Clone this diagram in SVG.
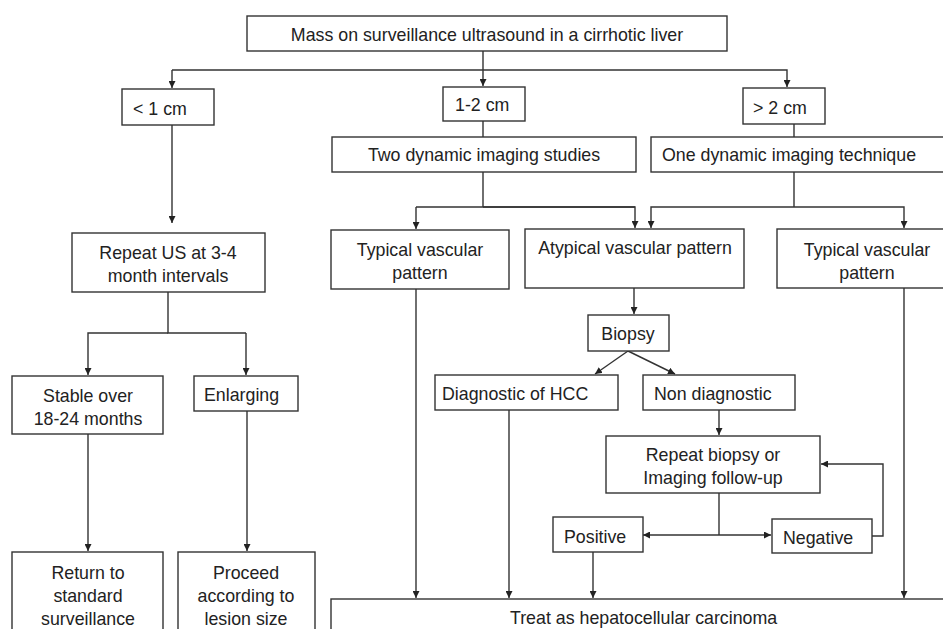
<svg xmlns="http://www.w3.org/2000/svg" width="943" height="629" viewBox="0 0 943 629">
<defs>
<marker id="ah" viewBox="0 0 10 10" refX="10" refY="5" markerWidth="7" markerHeight="7" markerUnits="userSpaceOnUse" orient="auto">
<path d="M0,0 L10,5 L0,10 z" fill="#222"/>
</marker>
</defs>
<style>
rect{fill:#fff;stroke:#333;stroke-width:1.4}
text{font-family:"Liberation Sans",Arial,sans-serif;font-size:17.8px;fill:#222}
.c{text-anchor:middle}
#connectors path{fill:none;stroke:#333;stroke-width:1.4}
.a{marker-end:url(#ah)}
</style>
<rect x="0" y="0" width="943" height="629" style="stroke:none;fill:#fff"/>
<g id="connectors">
<path d="M483,51 V70"/>
<path class="a" d="M172,70 H483 M172,70 V88"/>
<path class="a" d="M483,70 V86"/>
<path class="a" d="M483,70 H787 V87"/>
<path d="M483,121 V137"/>
<path d="M794,124 V137"/>
<path class="a" d="M172,125 V223"/>
<path d="M483,172 V207"/>
<path class="a" d="M416,207 H635 M416,207 V229"/>
<path class="a" d="M483,207 H635 V228"/>
<path d="M794,172 V207"/>
<path class="a" d="M794,207 H651 V228"/>
<path class="a" d="M794,207 H904 V228"/>
<path class="a" d="M634,288 V314"/>
<path class="a" d="M628,351 L595,374"/>
<path class="a" d="M628,351 L675,374"/>
<path class="a" d="M719,410 V435"/>
<path d="M168,292 V333 H246"/>
<path class="a" d="M168,333 H88 V375"/>
<path class="a" d="M246,333 V375"/>
<path class="a" d="M88,434 V551"/>
<path class="a" d="M247,411 V551"/>
<path d="M719,493 V535"/>
<path class="a" d="M719,535 H643"/>
<path class="a" d="M719,535 H771"/>
<path class="a" d="M872,536 H883 V464 H821"/>
<path class="a" d="M416,289 V598"/>
<path class="a" d="M509,410 V598"/>
<path class="a" d="M593,552 V598"/>
<path class="a" d="M904,288 V598"/>
</g>
<g id="n-top"><rect x="247" y="16" width="480" height="35"/><text class="c" x="487" y="41">Mass on surveillance ultrasound in a cirrhotic liver</text></g>
<g id="n-lt1"><rect x="122" y="89" width="92" height="36"/><text x="133" y="115">&lt; 1 cm</text></g>
<g id="n-12"><rect x="443" y="87" width="82" height="34"/><text x="455" y="111">1-2 cm</text></g>
<g id="n-gt2"><rect x="743" y="88" width="82" height="36"/><text x="753" y="114">&gt; 2 cm</text></g>
<g id="n-two"><rect x="332" y="137" width="304" height="35"/><text class="c" x="484" y="161">Two dynamic imaging studies</text></g>
<g id="n-one"><rect x="651" y="137" width="300" height="35"/><text x="662" y="161">One dynamic imaging technique</text></g>
<g id="n-typL"><rect x="331" y="230" width="178" height="59"/><text class="c" x="420" y="256">Typical vascular</text><text class="c" x="420" y="279">pattern</text></g>
<g id="n-atyp"><rect x="525" y="229" width="219" height="59"/><text class="c" x="635" y="254">Atypical vascular pattern</text></g>
<g id="n-typR"><rect x="777" y="229" width="180" height="59"/><text class="c" x="867" y="256">Typical vascular</text><text class="c" x="867" y="279">pattern</text></g>
<g id="n-biopsy"><rect x="588" y="315" width="81" height="36"/><text class="c" x="628" y="340">Biopsy</text></g>
<g id="n-diag"><rect x="435" y="375" width="183" height="35"/><text x="442" y="400">Diagnostic of HCC</text></g>
<g id="n-nondiag"><rect x="643" y="375" width="152" height="35"/><text x="654" y="400">Non diagnostic</text></g>
<g id="n-repeatb"><rect x="606" y="436" width="214" height="57"/><text class="c" x="713" y="461">Repeat biopsy or</text><text class="c" x="713" y="484">Imaging follow-up</text></g>
<g id="n-pos"><rect x="553" y="517" width="90" height="35"/><text x="564" y="543">Positive</text></g>
<g id="n-neg"><rect x="772" y="519" width="100" height="34"/><text x="783" y="544">Negative</text></g>
<g id="n-repeatus"><rect x="72" y="233" width="193" height="59"/><text class="c" x="168" y="259">Repeat US at 3-4</text><text class="c" x="168" y="282">month intervals</text></g>
<g id="n-stable"><rect x="12" y="376" width="151" height="58"/><text class="c" x="88" y="402">Stable over</text><text class="c" x="88" y="425">18-24 months</text></g>
<g id="n-enl"><rect x="194" y="376" width="104" height="35"/><text x="204" y="401">Enlarging</text></g>
<g id="n-return"><rect x="12" y="552" width="151" height="90"/><text class="c" x="88" y="579">Return to</text><text class="c" x="88" y="602">standard</text><text class="c" x="88" y="625">surveillance</text></g>
<g id="n-proceed"><rect x="178" y="552" width="137" height="90"/><text class="c" x="246" y="579">Proceed</text><text class="c" x="246" y="602">according to</text><text class="c" x="246" y="625">lesion size</text></g>
<g id="n-treat"><rect x="331" y="599" width="625" height="50"/><text x="510" y="624">Treat as hepatocellular carcinoma</text></g>
</svg>
